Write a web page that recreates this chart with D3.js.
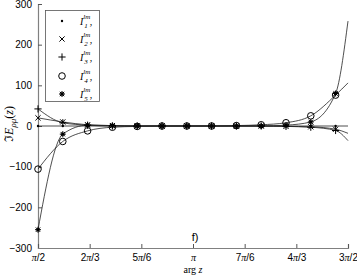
<!DOCTYPE html>
<html><head><meta charset="utf-8">
<script src="https://cdn.jsdelivr.net/npm/d3@7"></script>
<style>body{margin:0;background:#fff}svg{display:block}</style>
</head><body>
<svg id="c" width="357" height="276"></svg>
<script>
// arg z in units of pi
const argZ = [0.5, 0.58, 0.66, 0.74, 0.82, 0.90, 0.98, 1.06, 1.14, 1.22, 1.30, 1.38, 1.46];
const argEnd = 1.5;
const seriesNames = ["1", "2", "3", "4", "5"];
const I1 = [0, 0, 0, 0, 0, 0, 0, 0, 0, 0, 0, 0, 0];
const I2 = [20, 10, 3, 1, 0, 0, 0, 0, 0, 0, -1, -2, -8];
const I3 = [42, 8, 2, 0, 0, 0, 0, 0, 0, 0, -1, -3, -11];
const I4 = [-106, -38, -12, -3, -1, 0, 0, 0, 1, 3, 8, 25, 76];
const I5 = [-255, -20, 2, 1, 0, 0, 0, 0, 0, 0, 2, 10, 80];
const endValues = [0, -18, -36, 106, 258];
const yTicks = [-300, -200, -100, 0, 100, 200, 300];
const xTicks = [0.5, 2/3, 5/6, 1, 7/6, 4/3, 1.5];
const xTickLabels = ["π/2", "2π/3", "5π/6", "π", "7π/6", "4π/3", "3π/2"];

const svg = d3.select("#c");
const x = d3.scaleLinear().domain([0.5, 1.5]).range([38, 348]);
const y = d3.scaleLinear().domain([-300, 300]).range([248, 4]);
const axisCol = "#808080";

// axes
const gy = svg.append("g").attr("transform", "translate(38,0)")
  .call(d3.axisLeft(y).tickValues(yTicks).tickSize(-4).tickPadding(6));
const gx = svg.append("g").attr("transform", "translate(0,248)")
  .call(d3.axisBottom(x).tickValues(xTicks).tickFormat((d,i)=>xTickLabels[i]).tickSize(-4).tickPadding(6));
[gy, gx].forEach(g => {
  g.select(".domain").attr("stroke", axisCol).attr("stroke-width", 1.2);
  g.selectAll(".tick line").attr("stroke", "#555");
  g.selectAll("text").attr("font-family", "Liberation Sans, Arial, sans-serif").attr("font-size", 10).attr("fill", "#000");
});
gx.selectAll(".tick text").html((d,i)=>xTickLabels[i].replace("π", '<tspan font-style="italic" font-family="Liberation Serif, serif">π</tspan>'));

// series
const series = [I1, I2, I3, I4, I5];
const line = d3.line().x(d => x(d[0])).y(d => y(d[1])).curve(d3.curveMonotoneX);
const plot = svg.append("g");
series.forEach((s, i) => {
  const pts = argZ.map((a, j) => [a, s[j]]).concat([[argEnd, endValues[i]]]);
  plot.append("path").attr("d", line(pts)).attr("fill", "none")
    .attr("stroke", "#222").attr("stroke-width", 0.8);
});

function marker(g, type, cx, cy) {
  const m = g.append("g").attr("transform", `translate(${cx},${cy})`).attr("stroke", "#000").attr("stroke-width", 1);
  if (type === 0) m.append("circle").attr("r", 1.2).attr("fill", "#000").attr("stroke", "none");
  if (type === 1) m.append("path").attr("d", "M-2.6,-2.6L2.6,2.6M-2.6,2.6L2.6,-2.6");
  if (type === 2) m.append("path").attr("d", "M-3.6,0L3.6,0M0,-3.6L0,3.6");
  if (type === 3) m.append("circle").attr("r", 3.3).attr("fill", "none");
  if (type === 4) {
    m.append("path").attr("d", "M-3,0L3,0M0,-3L0,3M-2.2,-2.2L2.2,2.2M-2.2,2.2L2.2,-2.2");
    m.append("circle").attr("r", 1.7).attr("fill", "#000").attr("stroke", "none");
  }
}
series.forEach((s, i) => {
  argZ.forEach((a, j) => marker(plot, i, x(a), y(s[j])));
});

// legend
svg.append("rect").attr("x", 45.5).attr("y", 10.5).attr("width", 54).attr("height", 91)
  .attr("fill", "#fff").attr("stroke", "#555").attr("stroke-width", 0.8);
const ly = [21, 39, 57, 76, 94];
seriesNames.forEach((n, i) => {
  marker(svg, i, 62, ly[i]);
  const t = svg.append("text").attr("x", 80).attr("y", ly[i] + 4)
    .attr("font-family", "Liberation Serif, serif").attr("font-size", 10).attr("font-style", "italic");
  t.append("tspan").text("I");
  t.append("tspan").attr("dy", -6).attr("font-size", 7).text("lm");
  t.append("tspan").attr("dx", -6).attr("dy", 9).attr("font-size", 7).text(n);
  t.append("tspan").attr("dy", -3).attr("dx", 2).attr("font-style", "normal").text(",");
});

// y label
const yl = svg.append("text").attr("transform", "translate(13,124) rotate(-90)").attr("text-anchor", "middle")
  .attr("font-family", "Liberation Serif, serif").attr("font-size", 12);
yl.append("tspan").text("ℑ");
yl.append("tspan").attr("font-style", "italic").text("E");
yl.append("tspan").attr("font-style", "italic").attr("font-size", 9).attr("dy", 3).text("ρμ");
yl.append("tspan").attr("dy", -3).text("(");
yl.append("tspan").attr("font-style", "italic").text("z");
yl.append("tspan").text(")");

// f) label and x label
svg.append("text").attr("x", 195).attr("y", 241).attr("text-anchor", "middle")
  .attr("font-family", "Liberation Sans, Arial, sans-serif").attr("font-size", 11).text("f)");
const xl = svg.append("text").attr("x", 193).attr("y", 273).attr("text-anchor", "middle")
  .attr("font-family", "Liberation Serif, serif").attr("font-size", 10);
xl.append("tspan").text("arg ");
xl.append("tspan").attr("font-style", "italic").text("z");
</script>
</body></html>
